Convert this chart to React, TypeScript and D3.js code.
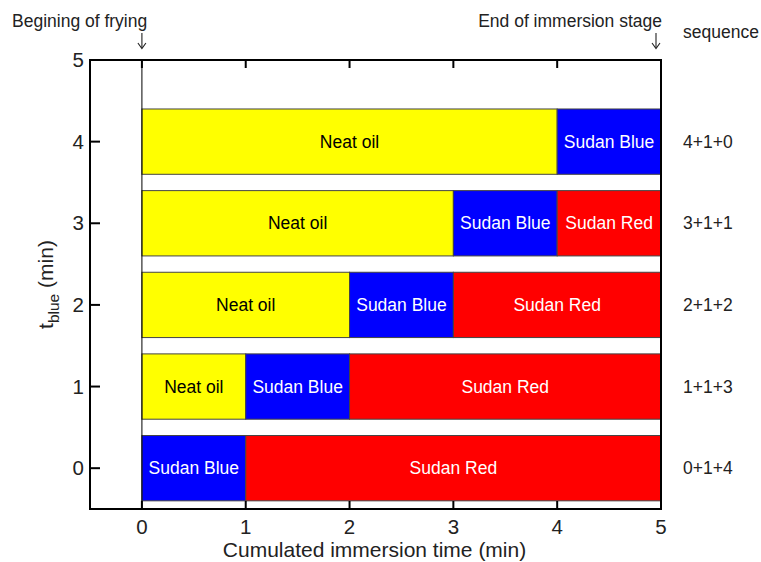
import React from "react";
import * as d3 from "d3";

const rows = [4, 3, 2, 1, 0];
const neatOil = [4, 3, 2, 1, 0];
const sudanBlue = [1, 1, 1, 1, 1];
const sudanRed = [0, 1, 2, 3, 4];
const sequences = ["4+1+0", "3+1+1", "2+1+2", "1+1+3", "0+1+4"];
const xTicks = [0, 1, 2, 3, 4, 5];
const yTicks = [0, 1, 2, 3, 4, 5];

const W = 761, H = 562;
const M = { left: 90, right: 661, top: 60, bottom: 509 };
const FONT = "'Liberation Sans', Arial, sans-serif";

function Arrow({ cx }: { cx: number }) {
  return (
    <g stroke="#222" strokeWidth={1.1} fill="none">
      <line x1={cx} x2={cx} y1={33} y2={48} />
      <polyline points={`${cx - 4},43 ${cx},48.5 ${cx + 4},43`} />
    </g>
  );
}

export default function App() {
  const x = d3.scaleLinear().domain([-0.5, 5]).range([M.left, M.right]);
  const y = d3.scaleLinear().domain([-0.5, 5]).range([M.bottom, M.top]);
  const bh = y(0) - y(0.8);

  const segs: any[] = [];
  rows.forEach((r, i) => {
    const parts = [
      { v: neatOil[i], name: "Neat oil", fill: "#ffff00", text: "#000" },
      { v: sudanBlue[i], name: "Sudan Blue", fill: "#0000ff", text: "#fff" },
      { v: sudanRed[i], name: "Sudan Red", fill: "#ff0000", text: "#fff" },
    ];
    let acc = 0;
    parts.forEach((p) => {
      if (p.v > 0) segs.push({ row: r, x0: acc, x1: acc + p.v, ...p });
      acc += p.v;
    });
  });

  return (
    <svg width={W} height={H} style={{ position: "absolute", left: 0, top: 0 }} fontFamily={FONT}>
      <rect width={W} height={H} fill="#fff" />
      {segs.map((s, k) => (
        <g key={k}>
          <rect x={x(s.x0)} y={y(s.row + 0.4)} width={x(s.x1) - x(s.x0)} height={bh}
            fill={s.fill} stroke="#444" strokeWidth={1} />
          <text x={(x(s.x0) + x(s.x1)) / 2} y={y(s.row)} dy="0.35em" textAnchor="middle"
            fontSize={17.5} fill={s.text}>{s.name}</text>
        </g>
      ))}
      <line x1={x(0)} x2={x(0)} y1={M.top} y2={M.bottom} stroke="#000" strokeWidth={1} />
      <rect x={M.left} y={M.top} width={M.right - M.left} height={M.bottom - M.top}
        fill="none" stroke="#000" strokeWidth={2} />
      {xTicks.map((t) => (
        <g key={"x" + t}>
          {t < 5 && <line x1={x(t)} x2={x(t)} y1={M.bottom} y2={M.bottom - 8} stroke="#000" strokeWidth={2} />}
          {t < 5 && <line x1={x(t)} x2={x(t)} y1={M.top} y2={M.top + 8} stroke="#000" strokeWidth={2} />}
          <text x={x(t)} y={M.bottom + 25} textAnchor="middle" fontSize={20.5} fill="#222">{t}</text>
        </g>
      ))}
      {yTicks.map((t) => (
        <g key={"y" + t}>
          {t < 5 && <line x1={M.left} x2={M.left + 10} y1={y(t)} y2={y(t)} stroke="#000" strokeWidth={2} />}
          <text x={M.left - 6} y={y(t)} dy="0.35em" textAnchor="end" fontSize={20.5} fill="#222">{t}</text>
        </g>
      ))}
      {rows.map((r, i) => (
        <text key={"s" + r} x={683} y={y(r)} dy="0.35em" fontSize={17.5} fill="#222">{sequences[i]}</text>
      ))}
      <text x={(M.left + M.right) / 2 - 1} y={557} textAnchor="middle" fontSize={21} fill="#222">Cumulated immersion time (min)</text>
      <text transform={`translate(53,${(M.top + M.bottom) / 2}) rotate(-90)`} textAnchor="middle" fontSize={21} fill="#222">
        t<tspan fontSize={15.5} dy={6}>blue</tspan><tspan dy={-6}> (min)</tspan>
      </text>
      <text x={12} y={27} fontSize={17.5} fill="#222">Begining of frying</text>
      <Arrow cx={x(0)} />
      <text x={662} y={27} textAnchor="end" fontSize={17.5} fill="#222">End of immersion stage</text>
      <Arrow cx={656} />
      <text x={683} y={38} fontSize={17.5} fill="#222">sequence</text>
    </svg>
  );
}
